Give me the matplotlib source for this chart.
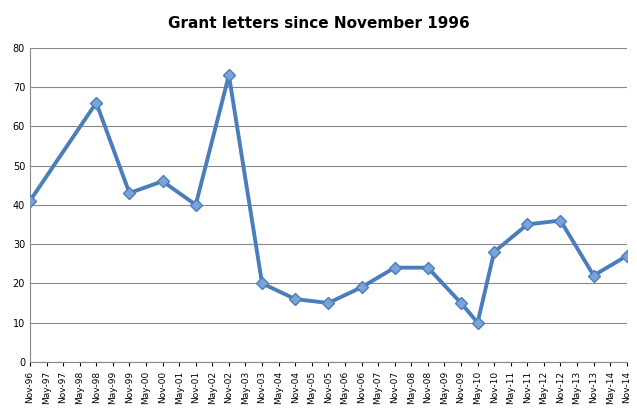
import matplotlib
matplotlib.use("Agg")
import matplotlib.pyplot as plt

labels = []
for y in range(96, 115):
    yy = f"{y % 100:02d}"
    if y > 96:
        labels.append(f"May-{yy}")
    labels.append(f"Nov-{yy}")

pt_labels = ["Nov-96", "Nov-98", "Nov-99", "Nov-00", "Nov-01", "Nov-02", "Nov-03", "Nov-04",
             "Nov-05", "Nov-06", "Nov-07", "Nov-08", "Nov-09", "May-10", "Nov-10", "Nov-11",
             "Nov-12", "Nov-13", "Nov-14"]
values = [41, 66, 43, 46, 40, 73, 20, 16, 15, 19, 24, 24, 15, 10, 28, 35, 36, 22, 27]

xs = [labels.index(l) for l in pt_labels]

fig = plt.figure(figsize=(6.37, 4.08), dpi=100)
ax = fig.add_axes([0.047, 0.113, 0.937, 0.77])
ax.plot(xs, values, color="#4a7ebb", lw=2.8, marker="D", ms=6,
        markerfacecolor="#7aa3d8", markeredgecolor="#4a7ebb", zorder=3)
ax.set_xlim(0, len(labels) - 1)
ax.set_ylim(0, 80)
ax.set_yticks(range(0, 81, 10))
ax.set_xticks(range(len(labels)))
ax.set_xticklabels(labels, rotation=90, fontsize=6.5)
ax.tick_params(axis="y", labelsize=7, length=0)
ax.tick_params(axis="x", length=3)
ax.grid(axis="y", color="#888888", lw=0.8)
for s in ["top", "right"]:
    ax.spines[s].set_visible(False)
ax.spines["left"].set_color("#888888")
ax.spines["bottom"].set_color("#888888")
fig.suptitle("Grant letters since November 1996", y=0.96, fontsize=11, fontweight="bold")
fig.savefig("out.png", dpi=100)
